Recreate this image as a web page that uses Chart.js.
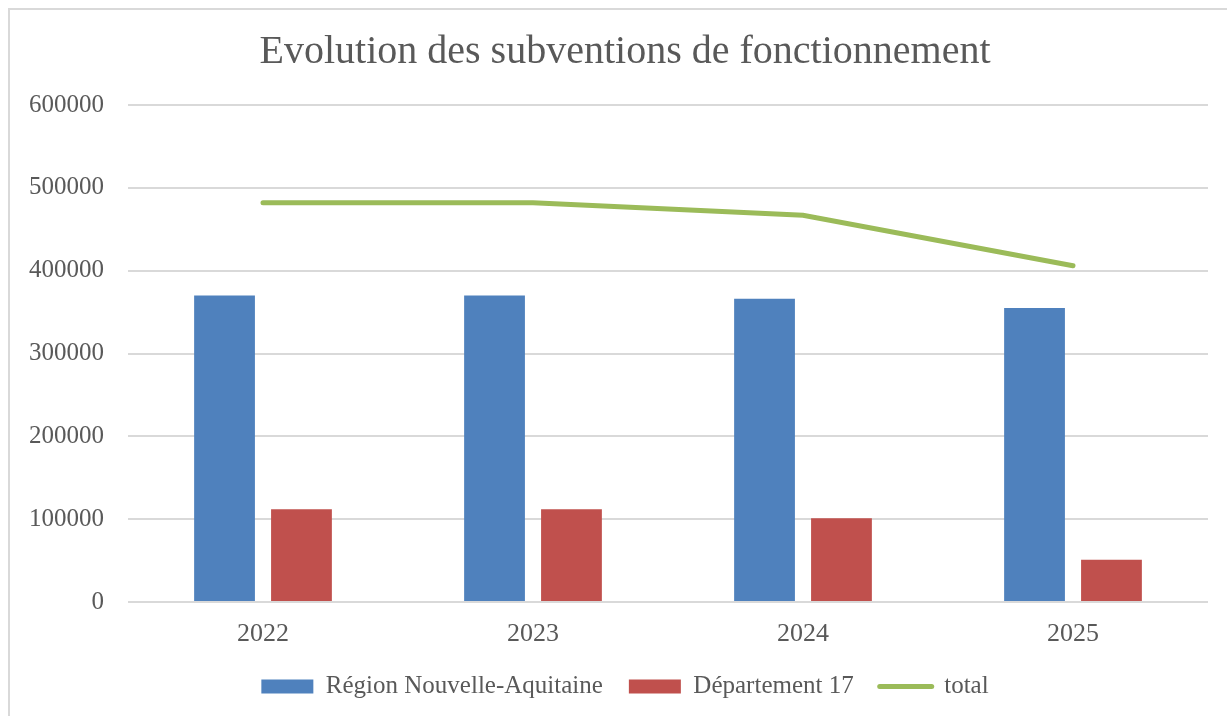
<!DOCTYPE html>
<html>
<head>
<meta charset="utf-8">
<script src="https://cdn.jsdelivr.net/npm/chart.js@4/dist/chart.umd.min.js"></script>
<style>
  html, body { margin: 0; padding: 0; background: #fff; }
  #wrap { width: 1227px; height: 716px; }
</style>
</head>
<body>
<div id="wrap"><canvas id="graphCanvas" width="1227" height="716"></canvas></div>
<script>
// données
const years = ['2022', '2023', '2024', '2025'];
const regionValues = [370000, 370000, 366000, 355000];
const departementValues = [112000, 112000, 101000, 51000];
const totalValues = [482000, 482000, 467000, 406000];
const yTicks = [0, 100000, 200000, 300000, 400000, 500000, 600000];

const textColor = '#595959';
const serif = "'Liberation Serif', 'DejaVu Serif', serif";

// cadre gris autour du graphique
const framePlugin = {
  id: 'frame',
  beforeDraw(chart) {
    const { ctx } = chart;
    ctx.save();
    ctx.strokeStyle = '#d9d9d9';
    ctx.lineWidth = 2;
    ctx.strokeRect(9, 9, chart.width + 20, chart.height + 20);
    ctx.restore();
  }
};

const ctx = document.getElementById('graphCanvas').getContext('2d');
new Chart(ctx, {
  data: {
    labels: years,
    datasets: [
      {
        type: 'bar',
        label: 'Région Nouvelle-Aquitaine',
        data: regionValues,
        backgroundColor: '#4F81BD',
        categoryPercentage: 0.57,
        barPercentage: 0.79
      },
      {
        type: 'bar',
        label: 'Département 17',
        data: departementValues,
        backgroundColor: '#C0504D',
        categoryPercentage: 0.57,
        barPercentage: 0.79
      },
      {
        type: 'line',
        label: 'total',
        data: totalValues,
        borderColor: '#9BBB59',
        backgroundColor: '#9BBB59',
        borderWidth: 5,
        borderCapStyle: 'round',
        pointRadius: 0,
        tension: 0
      }
    ]
  },
  options: {
    responsive: false,
    animation: false,
    // le cadre du graphique dépasse à droite : on centre titre et légende dessus
    layout: { padding: { left: 0, right: -23, top: 0, bottom: 7 } },
    plugins: {
      title: {
        display: true,
        text: 'Evolution des subventions de fonctionnement',
        color: textColor,
        font: { family: serif, size: 40, weight: 'normal' },
        padding: { top: 28, bottom: 29 }
      },
      legend: {
        position: 'bottom',
        labels: {
          color: textColor,
          font: { family: serif, size: 25 },
          usePointStyle: true,
          pointStyleWidth: 52,
          boxHeight: 14,
          padding: 26,
          generateLabels(chart) {
            return chart.data.datasets.map((ds, i) => ({
              text: ds.label,
              datasetIndex: i,
              fillStyle: ds.type === 'line' ? 'transparent' : ds.backgroundColor,
              strokeStyle: ds.type === 'line' ? ds.borderColor : ds.backgroundColor,
              lineWidth: ds.type === 'line' ? 5 : 0,
              lineCap: 'round',
              pointStyle: ds.type === 'line' ? 'line' : 'rect',
              fontColor: textColor,
              hidden: false
            }));
          }
        }
      },
      tooltip: { enabled: false }
    },
    scales: {
      x: {
        grid: { display: false },
        border: { display: false },
        ticks: {
          color: textColor,
          font: { family: serif, size: 26 },
          padding: 9
        },
        afterFit(scale) { scale.height = 46; }
      },
      y: {
        min: 0,
        max: 600000,
        afterBuildTicks(scale) { scale.ticks = yTicks.map(v => ({ value: v })); },
        grid: { color: '#d9d9d9', lineWidth: 2, drawTicks: false },
        border: { display: false },
        ticks: {
          color: textColor,
          font: { family: serif, size: 25 },
          padding: 24,
          callback: (v) => String(v)
        },
        afterFit(scale) { scale.width = 128; }
      },
      // axe vide à droite, juste pour réserver la marge
      yRight: {
        type: 'linear',
        position: 'right',
        grid: { display: false },
        border: { display: false },
        ticks: { display: false },
        afterFit(scale) { scale.width = 42; }
      }
    }
  },
  plugins: [framePlugin]
});
</script>
</body>
</html>
